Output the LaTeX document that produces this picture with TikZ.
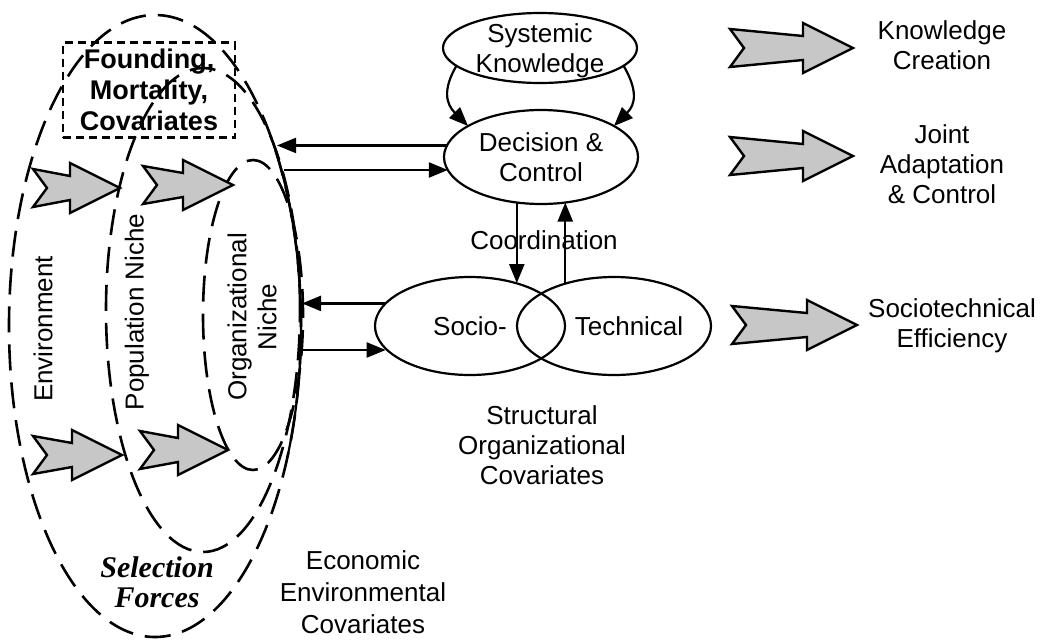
\documentclass[tikz,border=0pt]{standalone}
\usepackage{fontspec}
\setmainfont{Liberation Sans}
\newfontfamily\serifbi{Liberation Serif}
\usetikzlibrary{arrows.meta,shapes.geometric,calc}

\begin{document}
\begin{tikzpicture}[x=1pt,y=-1pt,
  every node/.style={font=\fontsize{26}{30}\selectfont, inner sep=0pt, outer sep=0pt},
  bubble/.style={ellipse, draw, line width=2.2},
  zone/.style={ellipse, draw, line width=2.6, dash pattern=on 26pt off 12pt},
  link/.style={line width=2.2, -{Triangle[length=19pt,width=15pt]}},
  txt/.style={align=center},
  pics/garrow/.style={code={
    \draw[line width=2.4, fill=black!22, line join=miter]
      (0,-19) -- (#1-50,-12) -- (#1-50,-25) -- (#1,0) -- (#1-50,25)
      -- (#1-50,12) -- (0,19) -- (14,0) -- cycle;}}
]
\fill[white] (0,0) rectangle (1054,640);
\useasboundingbox (0,0) rectangle (1054,640);

% nested niches
\node[zone, minimum width=292, minimum height=622] (env) at (155,326) {};
\node[zone, minimum width=194, minimum height=484] (pop) at (203,310) {};
\node[zone, minimum width=100, minimum height=310] (org) at (253,315) {};
% solid rim where the niches meet
\draw[line width=2.2] (155,326) ++(-37:146 and 311)
  arc[start angle=-37, end angle=25, x radius=146, y radius=311];

% founding / mortality box
\node[draw, dash pattern=on 8pt off 5pt, line width=2.2, minimum width=172,
      minimum height=95, align=center,
      font=\bfseries\fontsize{27}{31}\selectfont] (fmc) at (149,90)
      {Founding,\\Mortality,\\Covariates};

% niche labels
\node[rotate=90] (envl) at (43,329) {Environment};
\node[rotate=90] (popl) at (137,312) {Population Niche};
\node[rotate=90, txt] (orgl) at (252,317) {Organizational\\Niche};
\node[txt, font=\serifbi\bfseries\itshape\fontsize{30}{30}\selectfont] (sel)
  at (157,582) {Selection\\Forces};

% selection-force arrows
\pic (ga1) at (33,188) {garrow=87};
\pic (ga2) at (143,185) {garrow=90};
\pic (ga3) at (33,455) {garrow=89};
\pic (ga4) at (140,450) {garrow=88};

% outcome arrows
\pic (ga5) at (730,48) {garrow=123};
\pic (ga6) at (730,156) {garrow=123};
\pic (ga7) at (732,325) {garrow=125};

% organisation core
\node[bubble, minimum width=194, minimum height=70] (sk) at (540,48) {};
\node[txt] (skl) at (540,51) {Systemic\\Knowledge};
\node[bubble, minimum width=194, minimum height=94, txt] (dc) at (541,157) {Decision \&\\Control};
\node[bubble, minimum width=190, minimum height=98] (soc) at (470,326) {Socio-};
\node[bubble, minimum width=194, minimum height=98] (tec) at (614,326) {};
\node (tecl) at (629,326) {Technical};
\node (coord) at (544,240) {Coordination};

% knowledge feeds decision
\draw[link] (sk.192) .. controls ($(sk.192)+(-14,24)$) and ($(dc.157)+(-22,-22)$) .. (dc.157);
\draw[link] (sk.348) .. controls ($(sk.348)+(14,24)$) and ($(dc.23)+(22,-22)$) .. (dc.23);

% coordination
\draw[link] (dc.242) -- (dc.242 |- soc.43);
\draw[link] (tec.139) -- (tec.139 |- dc.298);

% exchanges with the niche rim
\coordinate (r1) at (277,145);
\coordinate (r2) at (284,170);
\coordinate (r3) at (302,302);
\coordinate (r4) at (302,350);
\draw[link] (dc.173) -- (dc.173 -| r1);
\draw[link] (r2) -- (r2 -| dc.188);
\draw[link] (soc.165) -- (soc.165 -| r3);
\draw[link] (r4) -- (r4 -| soc.195);

% outcome and covariate labels
\node[txt] (kc) at (942,45) {Knowledge\\Creation};
\node[txt] (jac) at (942,164) {Joint\\Adaptation\\\& Control};
\node[txt] (se) at (952,326) {Sociotechnical\\Efficiency};
\node[txt] (soc2) at (542,445) {Structural\\Organizational\\Covariates};
\node[txt, font=\fontsize{26}{32}\selectfont] (eec) at (363,592)
  {Economic\\Environmental\\Covariates};
\end{tikzpicture}
\end{document}
